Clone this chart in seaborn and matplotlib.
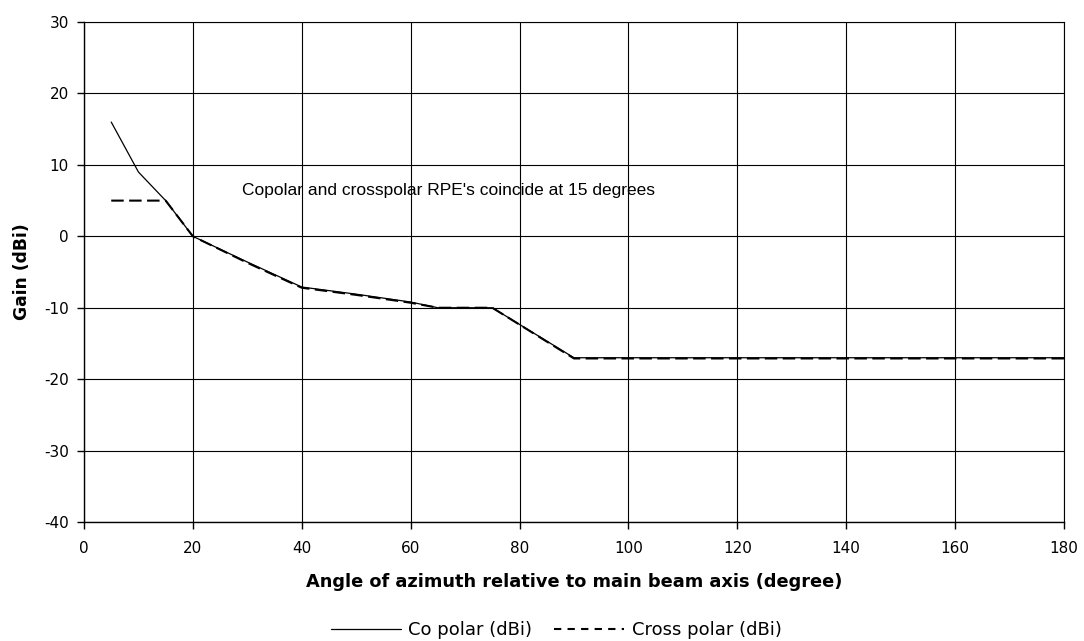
"""Co/cross polar RPE chart."""

import matplotlib

matplotlib.use("Agg")
import matplotlib.pyplot as plt
import pandas as pd
import seaborn as sns
from matplotlib.lines import Line2D

co_angle = [5, 10, 15, 20, 30, 40, 50, 60, 65, 75, 90, 180]
co_gain = [16, 9, 5, 0, -3.6, -7.1, -8.1, -9.2, -10, -10, -17, -17]
cross_angle = [5, 15, 20, 30, 40, 50, 60, 65, 75, 90, 180]
cross_gain = [5, 5, 0, -3.7, -7.2, -8.2, -9.3, -10, -10, -17.1, -17.1]

x_ticks = list(range(0, 181, 20))
y_ticks = list(range(-40, 31, 10))

sns.set_style("white")
plt.rcParams["font.family"] = ["DejaVu Sans"]
plt.rcParams["axes.unicode_minus"] = False
plt.rcParams["text.color"] = "black"
plt.rcParams["axes.labelcolor"] = "black"
plt.rcParams["xtick.color"] = "black"
plt.rcParams["ytick.color"] = "black"

fig = plt.figure(figsize=(10.84, 6.41), dpi=100)
ax = fig.add_axes([0.0775, 0.1856, 0.904, 0.780])

co = pd.DataFrame({"angle": co_angle, "gain": co_gain})
cross = pd.DataFrame({"angle": cross_angle, "gain": cross_gain})
sns.lineplot(data=co, x="angle", y="gain", ax=ax, color="black", lw=0.9)
sns.lineplot(data=cross, x="angle", y="gain", ax=ax, color="black", lw=1.5,
             linestyle=(0, (6, 2.6)))

ax.set_xlim(0, 180)
ax.set_ylim(-40, 30)
ax.set_xticks(x_ticks)
ax.set_yticks(y_ticks)
ax.grid(True, color="black", lw=0.8)
for side in ["top", "right"]:
    ax.spines[side].set_color("black")
    ax.spines[side].set_linewidth(0.8)
for side in ["left", "bottom"]:
    ax.spines[side].set_color("black")
    ax.spines[side].set_linewidth(1.0)
ax.tick_params(axis="both", direction="out", length=5, width=1, color="black",
               labelsize=11, bottom=True, left=True)
ax.tick_params(axis="x", pad=9)
ax.tick_params(axis="y", pad=6)

ax.set_xlabel("Angle of azimuth relative to main beam axis (degree)",
              fontsize=12.8, fontweight="bold", labelpad=12)
ax.set_ylabel("Gain (dBi)", fontsize=12.3, fontweight="bold", labelpad=9)

ax.text(29.0, 6.4, "Copolar and crosspolar RPE's coincide at 15 degrees",
        fontsize=12.5, va="center", ha="left", family=["Liberation Sans"])

handles = [
    Line2D([], [], color="black", lw=0.9),
    Line2D([], [], color="black", lw=1.5, linestyle=(0, (3.5, 3))),
]
labels = ["Co polar (dBi)", "Cross polar (dBi)"]
fig.legend(handles, labels, loc="center", bbox_to_anchor=(556 / 1084, 11 / 641),
           ncol=2, frameon=False, fontsize=13, handlelength=3.9,
           columnspacing=1.2, handletextpad=0.4)

fig.savefig("out.png", dpi=100)
